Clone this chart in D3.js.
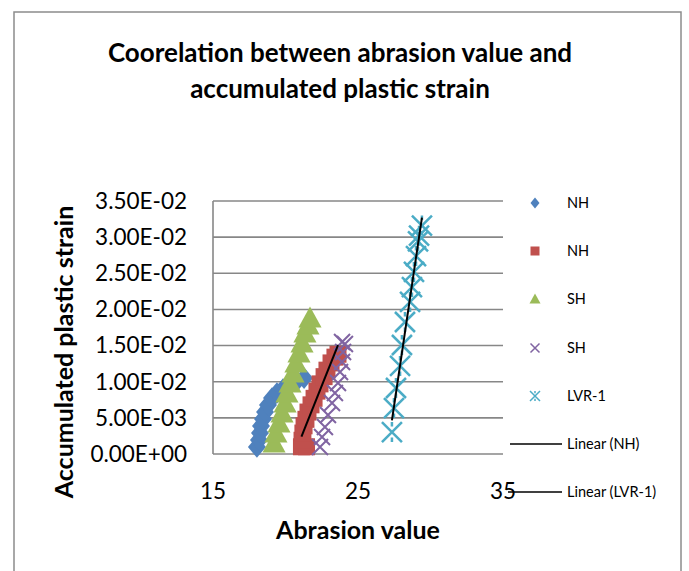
<!DOCTYPE html>
<html><head><meta charset="utf-8">
<script src="https://cdn.jsdelivr.net/npm/d3@7"></script>
<style>body{margin:0;background:#fff}svg{display:block}text{font-family:Lato,"Open Sans",sans-serif}</style>
</head><body><svg id="c" width="689" height="571"></svg>
<script>
const title = ["Coorelation between abrasion value and", "accumulated plastic strain"];
const xTicks = [15, 25, 35];
const yTicks = [0, 0.005, 0.01, 0.015, 0.02, 0.025, 0.03, 0.035];
const yTickLabels = ["0.00E+00","5.00E-03","1.00E-02","1.50E-02","2.00E-02","2.50E-02","3.00E-02","3.50E-02"];

const nhBlueX = [18.03,18.17,18.24,18.31,18.45,18.59,18.79,19.07,19.41,19.83,20.31,20.79,21.28];
const nhBlueY = [0.00097,0.00194,0.0029,0.00387,0.00484,0.00581,0.00678,0.00775,0.00844,0.009,0.00955,0.0101,0.0105];
const nhRedX = [21.1,21.45,21.14,21.2,21.28,21.41,21.55,21.76,21.97,22.17,22.38,22.66,22.86,23.14,23.41,23.62];
const nhRedY = [0.001,0.001,0.0019,0.0029,0.0039,0.0048,0.0058,0.0068,0.0077,0.0087,0.0097,0.0107,0.0116,0.0126,0.0134,0.0138];
const shGreenX = [19.21,19.34,19.55,19.76,19.97,20.10,20.31,20.52,20.72,20.93,21.14,21.34,21.55,21.69];
const shGreenY = [0.00152,0.0029,0.00429,0.00567,0.00706,0.00844,0.00982,0.0112,0.01259,0.01397,0.01536,0.01674,0.01785,0.01882];
const shPurpleX = [22.38,22.52,22.72,22.93,23.21,23.41,23.62,23.76,23.9,23.97,24.1,23.9];
const shPurpleY = [0.00097,0.00235,0.00374,0.0054,0.00706,0.00844,0.00982,0.01135,0.01273,0.01411,0.01522,0.0155];
const lvrX = [27.34,27.48,27.62,27.9,28.03,28.24,28.59,28.72,28.86,29.0,29.14,29.21,29.41];
const lvrY = [0.00304,0.00636,0.00913,0.01218,0.01508,0.01826,0.02103,0.0231,0.02518,0.02739,0.0294,0.0302,0.0316];

const seriesNames = ["NH","NH","SH","SH","LVR-1"];
const trendNames = ["Linear (NH)","Linear (LVR-1)"];
const colors = ["#4F81BD","#C0504D","#9BBB59","#8064A2","#4BACC6"];

const svg = d3.select("#c");
svg.append("rect").attr("x",14).attr("y",12).attr("width",667).attr("height",600)
  .attr("fill","#fff").attr("stroke","#8c8c8c").attr("stroke-width",1.5);

const x = d3.scaleLinear().domain([15,35]).range([213,503]);
const y = d3.scaleLinear().domain([0,0.035]).range([454,201]);

svg.append("g").selectAll("line").data(yTicks).join("line")
  .attr("x1",x(15)).attr("x2",x(35)).attr("y1",d=>y(d)).attr("y2",d=>y(d))
  .attr("stroke","#878787").attr("stroke-width",1.6);
svg.append("line").attr("x1",x(15)).attr("x2",x(15)).attr("y1",y(0)).attr("y2",y(0.035))
  .attr("stroke","#878787").attr("stroke-width",1.6);

svg.append("g").selectAll("text").data(yTicks).join("text")
  .attr("x",187).attr("y",d=>y(d)).attr("dy","0.35em").attr("text-anchor","end")
  .attr("font-size",22.5).attr("fill","#000").text((d,i)=>yTickLabels[i]);
svg.append("g").selectAll("text").data(xTicks).join("text")
  .attr("x",d=>x(d)).attr("y",491).attr("dy","0.35em").attr("text-anchor","middle")
  .attr("font-size",22.5).attr("fill","#000").text(d=>d);

svg.append("g").selectAll("text").data(title).join("text")
  .attr("x",340).attr("y",(d,i)=>53+i*36).attr("dy","0.35em").attr("text-anchor","middle")
  .attr("font-size",26).attr("font-weight","bold").text(d=>d);
svg.append("text").attr("x",358).attr("y",530).attr("dy","0.35em").attr("text-anchor","middle")
  .attr("font-size",25).attr("font-weight","bold").text("Abrasion value");
svg.append("text").attr("transform","translate(64,352) rotate(-90)").attr("dy","0.35em")
  .attr("text-anchor","middle").attr("font-size",25).attr("font-weight","bold")
  .text("Accumulated plastic strain");

function zip(a,b){return a.map((v,i)=>[v,b[i]]);}
const data = [zip(nhBlueX,nhBlueY), zip(nhRedX,nhRedY), zip(shGreenX,shGreenY), zip(shPurpleX,shPurpleY), zip(lvrX,lvrY)];

function marker(g, type, cx, cy, s, col){
  if(type===0){
    g.append("path").attr("d",`M${cx},${cy-s*0.6}L${cx+s*0.5},${cy}L${cx},${cy+s*0.6}L${cx-s*0.5},${cy}Z`).attr("fill",col);
  } else if(type===1){
    g.append("rect").attr("x",cx-s/2).attr("y",cy-s/2).attr("width",s).attr("height",s).attr("fill",col);
  } else if(type===2){
    g.append("path").attr("d",`M${cx},${cy-s*0.55}L${cx+s*0.55},${cy+s*0.45}L${cx-s*0.55},${cy+s*0.45}Z`).attr("fill",col);
  } else if(type===3){
    const h=s/2;
    g.append("path").attr("d",`M${cx-h},${cy-h}L${cx+h},${cy+h}M${cx-h},${cy+h}L${cx+h},${cy-h}`)
      .attr("stroke",col).attr("stroke-width",Math.max(1.5,s/8)).attr("fill","none");
  } else {
    const h=s/2;
    g.append("path").attr("d",`M${cx-h},${cy-h}L${cx+h},${cy+h}M${cx-h},${cy+h}L${cx+h},${cy-h}M${cx},${cy-h}L${cx},${cy-h*0.55}M${cx},${cy+h*0.55}L${cx},${cy+h}`)
      .attr("stroke",col).attr("stroke-width",Math.max(1.5,s/8)).attr("fill","none");
  }
}
const sizes = [18,17,21,16,20];
data.forEach((pts,si)=>{
  const g = svg.append("g");
  pts.forEach(p=>marker(g, si, x(p[0]), y(p[1]), sizes[si], colors[si]));
});

function linreg(pts){
  const mx=d3.mean(pts,p=>p[0]), my=d3.mean(pts,p=>p[1]);
  let sxy=0,sxx=0; pts.forEach(p=>{sxy+=(p[0]-mx)*(p[1]-my); sxx+=(p[0]-mx)**2;});
  const b=sxy/sxx, a=my-b*mx;
  const [x0,x1]=d3.extent(pts,p=>p[0]);
  return [[x0,a+b*x0],[x1,a+b*x1]];
}
const line = d3.line().x(d=>x(d[0])).y(d=>y(d[1]));
[data[1], data[4]].forEach(pts=>{
  svg.append("path").attr("d",line(linreg(pts))).attr("stroke","#000").attr("stroke-width",2).attr("fill","none");
});

const legY = [203,251,299,348,396];
const lg = svg.append("g");
seriesNames.forEach((n,i)=>{
  marker(lg, i, 535, legY[i], [9,9,10,9,10][i], colors[i]);
  lg.append("text").attr("x",567).attr("y",legY[i]).attr("dy","0.35em").attr("font-size",14.5).text(n);
});
const trY = [444,492];
trendNames.forEach((n,i)=>{
  lg.append("line").attr("x1",[510,508][i]).attr("x2",562).attr("y1",trY[i]).attr("y2",trY[i]).attr("stroke","#000").attr("stroke-width",1.5);
  lg.append("text").attr("x",567).attr("y",trY[i]).attr("dy","0.35em").attr("font-size",14.5).text(n);
});
</script></body></html>
